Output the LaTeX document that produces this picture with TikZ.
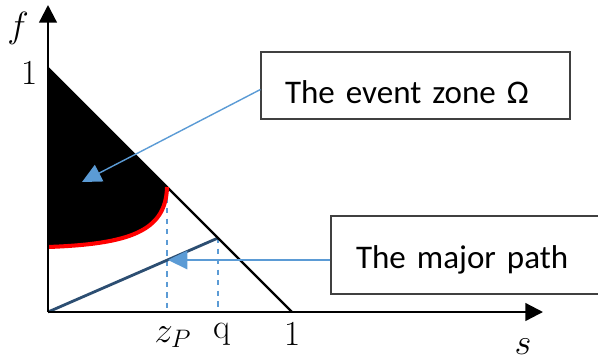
\documentclass[tikz,border=0pt]{standalone}
\usepackage{fontspec}
\usepackage{tikz}
\usetikzlibrary{arrows.meta, positioning, calc}
\newfontfamily\boxfont{Carlito}
\definecolor{lightblue}{RGB}{91,155,213}
\definecolor{pathblue}{RGB}{44,78,114}

\begin{document}
\begin{tikzpicture}[x=0.02cm, y=0.02cm,
  axis/.style={line width=1.3pt, -{Triangle[length=10pt, width=10pt]}},
  guide/.style={line width=0.6pt, dashed, lightblue},
  callout/.style={draw=black!75, line width=0.7pt, align=left, text depth=0pt,
    font=\boxfont\fontsize{18.8}{22}\selectfont},
  pointer/.style={line width=0.8pt, lightblue, -{Triangle[length=11pt, width=10.5pt]}},
  lbl/.style={font=\fontsize{20}{24}\selectfont}]

\useasboundingbox (-48,-48) rectangle (550,312);

\def\zp{119}
\def\q{170}

\coordinate (O) at (0,0);
\coordinate (F1) at (0,244);
\coordinate (S1) at (244,0);
\coordinate (R) at (0,65);
\coordinate (Z) at (\zp,244-\zp);
\coordinate (Q) at (\q,244-\q);

\fill[black] (R) .. controls (80,68) and (118,80) .. (Z) -- (F1) -- cycle;

\draw[guide] (Z) -- (Z |- O);
\draw[guide] (Q) -- (Q |- O);

\draw[line width=1.6pt, pathblue] (O) -- (Q);
\draw[line width=1.3pt] (F1) -- (S1);
\draw[line width=2.3pt, red] (R) .. controls (80,68) and (118,80) .. (Z);

\draw[axis] (O) -- (0,307);
\draw[axis] (O) -- (495,0);

\node[lbl] (flab) at (-30,284) {$f$};
\node[lbl] (fone) at (-18,239) {1};
\node[lbl] (zlab) at (125,-25) {$z_P$};
\node[lbl] (qlab) at (174,-22) {q};
\node[lbl] (sone) at (245,-22) {1};
\node[lbl] (slab) at (475,-35) {$s$};

\node[callout, text width=5.22cm, inner xsep=0.48cm, minimum height=1.34cm,
  text height=21pt] (zone) at (367.5,226.5) {The event zone Ω};
\node[callout, text width=5cm, inner xsep=0.5cm, minimum height=1.56cm,
  text height=15pt] (major) at (433,57) {The major path};

\coordinate (tipa) at (34,130);
\coordinate (tipb) at (120,52);

\draw[pointer] ([yshift=-0.08cm]zone.west) -- (tipa);
\draw[pointer] (major.west |- tipb) -- (tipb);

\end{tikzpicture}
\end{document}
